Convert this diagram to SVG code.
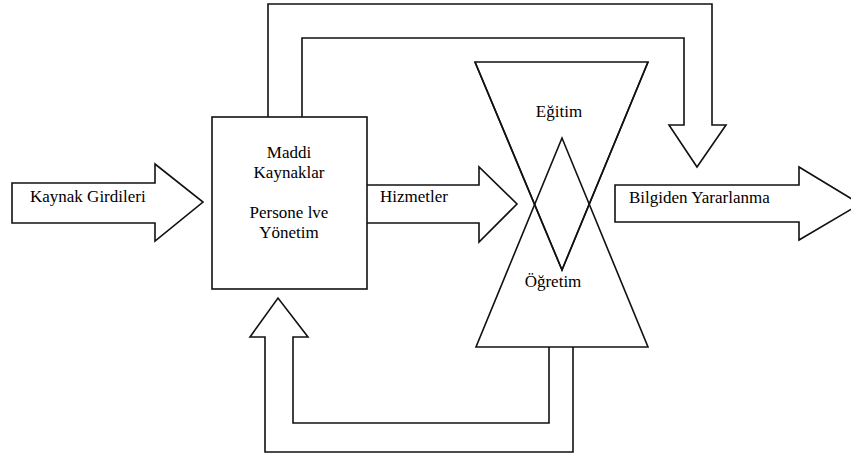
<svg xmlns="http://www.w3.org/2000/svg" width="851" height="453" viewBox="0 0 851 453">
  <style>
    .shape { fill: #ffffff; stroke: #111111; stroke-width: 1.6; stroke-linejoin: miter; }
    .open { fill: none; stroke: #111111; stroke-width: 1.6; }
    text { font-family: 'Liberation Serif', 'DejaVu Serif', serif; font-size: 17px; fill: #000000; }
    .mid { text-anchor: middle; }
  </style>
  <rect width="851" height="453" fill="#ffffff"/>

  <!-- block arrows linking the stages -->
  <g id="connectors">
    <!-- input arrow -->
    <path id="arrow-input" class="shape" d="M12,183 L155,183 L155,164 L203,202 L155,241 L155,223 L12,223 Z"/>
    <!-- services arrow -->
    <path id="arrow-services" class="shape" d="M367,185 L479,185 L479,167 L517,204 L479,242 L479,223 L367,223"/>
    <!-- output arrow -->
    <path id="arrow-output" class="shape" d="M615,185 L799,185 L799,167 L860,204 L799,240 L799,222 L615,222 Z"/>
    <!-- upper feedback loop -->
    <path id="arrow-feedback-top" class="shape" d="M268,117 L268,4 L712,4 L712,125 L726,125 L697,167 L669,125 L684,125 L684,38 L302,38 L302,117"/>
    <!-- lower feedback loop -->
    <path id="arrow-feedback-bottom" class="shape" d="M573,347 L573,452 L265,452 L265,337 L250,337 L278,298 L308,337 L293,337 L293,423 L549,423 L549,347"/>
  </g>

  <!-- resources box -->
  <g id="node-resources" font-family="Liberation Serif, serif">
    <rect class="shape" x="212" y="117" width="155" height="172"/>
    <text class="mid" x="289" y="158">Maddi</text>
    <text class="mid" x="289" y="178">Kaynaklar</text>
    <text class="mid" x="289" y="218">Persone lve</text>
    <text class="mid" x="289" y="238">Yönetim</text>
  </g>

  <!-- education / teaching hourglass -->
  <g id="node-education">
    <polygon class="shape" points="475,62 648,62 562,270"/>
  </g>
  <g id="node-teaching">
    <polygon class="shape" points="562,138 476,347 648,347" style="fill:none"/>
    <polyline class="open" points="475,62 562,270 648,62"/>
  </g>
  <g id="labels-hourglass">
    <text class="mid" x="559" y="117">Eğitim</text>
    <text class="mid" x="553" y="287">Öğretim</text>
  </g>

  <!-- arrow labels -->
  <g id="labels-arrows">
    <text x="30" y="202">Kaynak Girdileri</text>
    <text x="380" y="202">Hizmetler</text>
    <text x="629" y="203">Bilgiden Yararlanma</text>
  </g>
</svg>
